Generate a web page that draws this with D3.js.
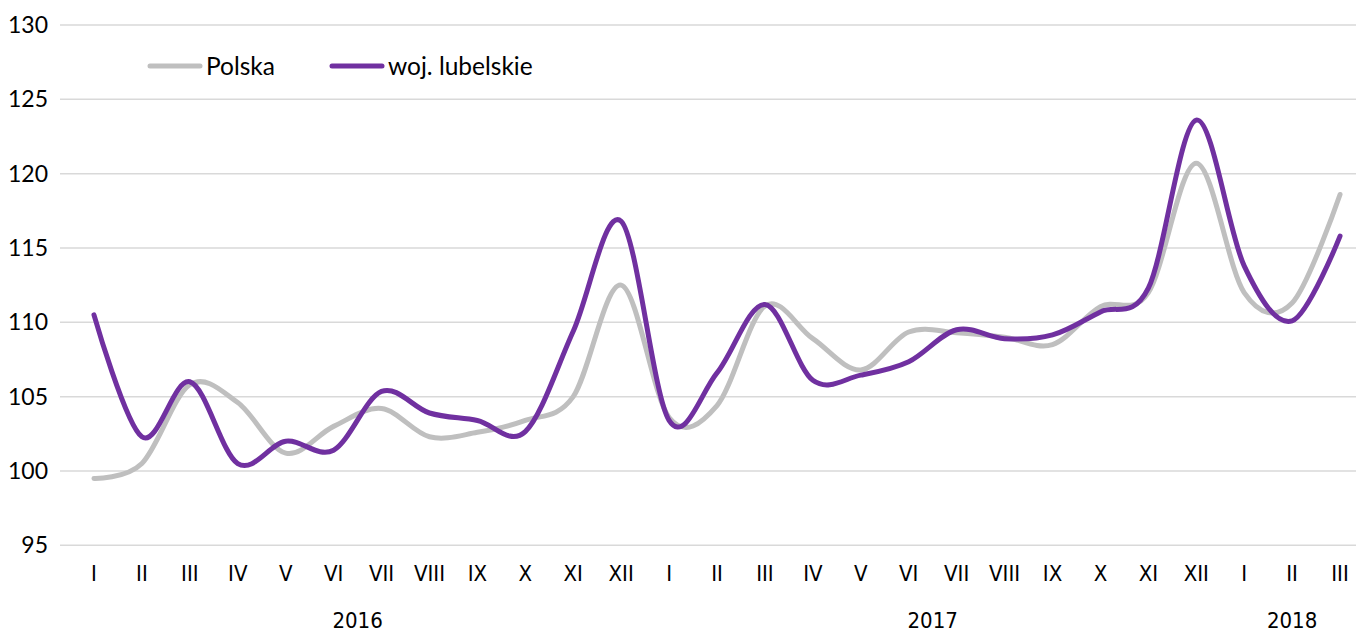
<!DOCTYPE html>
<html>
<head>
<meta charset="utf-8">
<script src="https://cdn.jsdelivr.net/npm/d3@7"></script>
<style>
  body { margin: 0; background: #fff; }
  svg text { fill: #000; }
  .lab { font-family: Lato, "Noto Sans", sans-serif; }
  .cond { font-family: "DejaVu Sans Condensed", "Liberation Sans Narrow", sans-serif; }
</style>
</head>
<body>
<script>
// month labels (roman numerals), 2016-01 .. 2018-03
const months = ['I','II','III','IV','V','VI','VII','VIII','IX','X','XI','XII',
                'I','II','III','IV','V','VI','VII','VIII','IX','X','XI','XII',
                'I','II','III'];
const years = [
  { label: '2016', from: 0, to: 11 },
  { label: '2017', from: 12, to: 23 },
  { label: '2018', from: 24, to: 26 }
];
const polska = [99.5, 100.5, 105.8, 104.6, 101.2, 103.0, 104.2, 102.3, 102.6, 103.4, 105.0, 112.5,
                103.6, 104.4, 111.1, 108.9, 106.8, 109.35, 109.3, 109.0, 108.5, 111.05, 112.0, 120.7,
                112.0, 111.3, 118.6];
const lubelskie = [110.5, 102.3, 106.0, 100.5, 102.0, 101.4, 105.35, 103.9, 103.4, 102.65, 109.4, 116.8,
                   103.4, 106.6, 111.2, 106.1, 106.45, 107.35, 109.5, 108.9, 109.15, 110.7, 112.3, 123.6,
                   113.8, 110.1, 115.8];
const yTicks = [95, 100, 105, 110, 115, 120, 125, 130];
const seriesNames = ['Polska', 'woj. lubelskie'];
const colors = ['#bfbfbf', '#7030a0'];

const W = 1356, H = 632;

const svg = d3.select('body').append('svg')
              .attr('width', W)
              .attr('height', H);

// scales
const x = d3.scaleBand().domain(d3.range(months.length)).range([70, 1364]);
const y = d3.scaleLinear().domain([95, 130]).range([545.3, 25]);
const cx = i => x(i) + x.bandwidth() / 2;

// grid lines
svg.append('g').selectAll('line')
   .data(yTicks).enter().append('line')
   .attr('x1', 60).attr('x2', W)
   .attr('y1', d => y(d)).attr('y2', d => y(d))
   .style('stroke', '#d9d9d9')
   .style('stroke-width', 1.5);

// y axis labels
const yAxis = svg.append('g').attr('transform', 'translate(48,0)')
   .call(d3.axisLeft(y).tickValues(yTicks).tickSize(0).tickPadding(0));
yAxis.select('.domain').remove();
yAxis.selectAll('text').attr('class', 'lab').style('font-size', '23px');

// x axis labels
const xAxis = svg.append('g').attr('transform', 'translate(0,565)')
   .call(d3.axisBottom(x).tickSize(0).tickPadding(0).tickFormat(i => months[i]));
xAxis.select('.domain').remove();
xAxis.selectAll('text').attr('class', 'cond').style('font-size', '22px');

// year labels
svg.append('g').selectAll('text')
   .data(years).enter().append('text')
   .attr('class', 'cond')
   .attr('x', d => (cx(d.from) + cx(d.to)) / 2)
   .attr('y', 628)
   .attr('text-anchor', 'middle')
   .style('font-size', '22px')
   .text(d => d.label);

// lines
const line = d3.line()
               .x((d, i) => cx(i))
               .y(d => y(d))
               .curve(d3.curveCardinal.tension(0));

[polska, lubelskie].forEach(function(s, k) {
  svg.append('path').datum(s)
     .attr('d', line)
     .style('fill', 'none')
     .style('stroke', colors[k])
     .style('stroke-width', 5)
     .style('stroke-linecap', 'round')
     .style('stroke-linejoin', 'round');
});

// legend
const legend = svg.append('g').selectAll('g')
   .data(seriesNames).enter().append('g')
   .attr('transform', (d, i) => 'translate(' + [150, 332][i] + ',66)');
legend.append('line')
   .attr('x1', 0).attr('x2', 50)
   .style('stroke', (d, i) => colors[i])
   .style('stroke-width', 5)
   .style('stroke-linecap', 'round');
legend.append('text')
   .attr('class', 'lab')
   .attr('x', 56).attr('dy', '0.35em')
   .style('font-size', '24.5px')
   .text(d => d);
</script>
</body>
</html>
